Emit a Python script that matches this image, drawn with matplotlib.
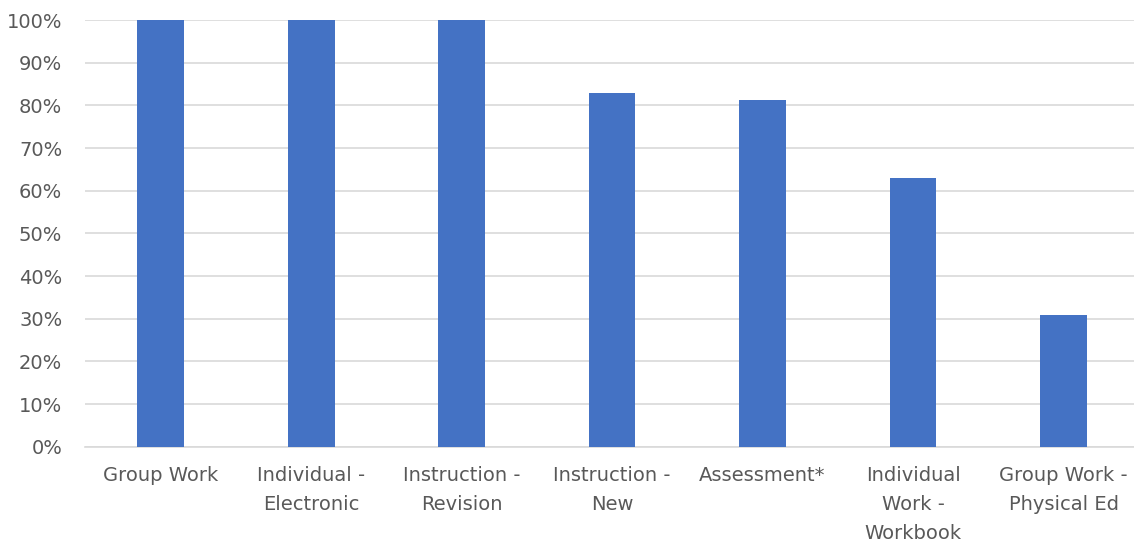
import matplotlib
matplotlib.use("Agg")
import matplotlib.pyplot as plt
from matplotlib.ticker import PercentFormatter

# data
categories = ["Group Work", "Individual -\nElectronic", "Instruction -\nRevision",
              "Instruction -\nNew", "Assessment*", "Individual\nWork -\nWorkbook",
              "Group Work -\nPhysical Ed"]
values = [100, 100, 100, 82.9, 81.2, 63.0, 30.9]
y_ticks = list(range(0, 101, 10))

fig = plt.figure(figsize=(11.34, 5.45), dpi=100)
ax = fig.add_axes([0.0752, 0.1804, 0.929, 0.7829])

ax.bar(range(len(categories)), values, width=0.312, color="#4472C4", zorder=3)

ax.set_xlim(-0.5, len(categories) - 0.5)
ax.set_ylim(0, 100)
ax.set_yticks(y_ticks)
ax.yaxis.set_major_formatter(PercentFormatter(decimals=0))
ax.set_xticks(range(len(categories)))
ax.set_xticklabels(categories, linespacing=1.65)

ax.grid(axis="y", color="#D9D9D9", linewidth=1.2, zorder=0)
for side in ["top", "right", "left"]:
    ax.spines[side].set_visible(False)
ax.spines["bottom"].set_color("#D9D9D9")
ax.spines["bottom"].set_linewidth(1.2)

ax.tick_params(axis="both", length=0, labelsize=14, labelcolor="#595959")
ax.tick_params(axis="x", pad=14)
ax.tick_params(axis="y", pad=16.5)

fig.savefig("out.png", dpi=100)
